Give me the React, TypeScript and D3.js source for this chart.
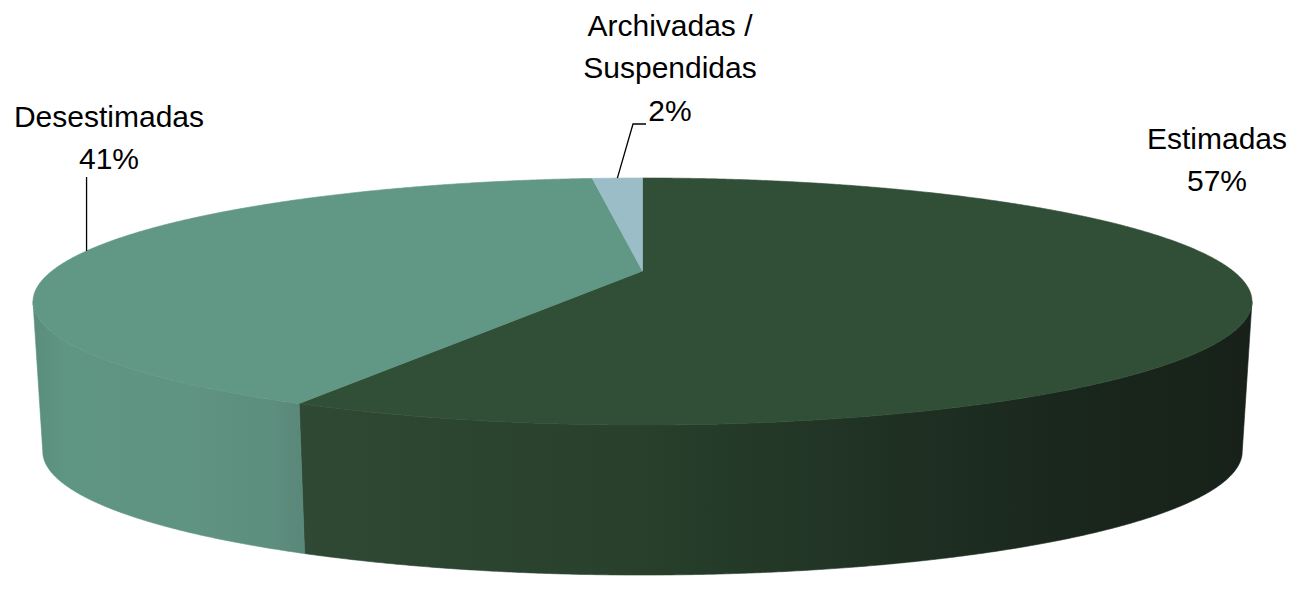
import React from 'react';
import * as d3 from 'd3';

// ---- data ----
const categories = ['Estimadas', 'Desestimadas', 'Archivadas / Suspendidas'];
const values = [57.49, 40.82, 1.69];
const labelLines = [['Estimadas'], ['Desestimadas'], ['Archivadas /', 'Suspendidas']];
const topColors = ['#314f37', '#619785', '#9bbdc7'];
const sideStops: [number, string][][] = [
  [[0, '#2f4934'], [0.35, '#28402c'], [0.6, '#203224'], [0.8, '#1a271d'], [1, '#172119']],
  [[0, '#5a8e7c'], [0.12, '#5f9583'], [0.6, '#5f9382'], [0.9, '#5d8e7e'], [1, '#5a887a']],
  [[0, '#8fb0ba'], [1, '#8fb0ba']],
];

// ---- layout ----
const W = 1295, H = 603;
const CX = 642.5, CY = 271, A = 590.6, B = 116, K = 0.247, DEPTH = 150, BOT = 0.984;
const FONT = 30, LH = 42.4;
const labelPos = [
  { x: 1217, y: 149 },
  { x: 109, y: 127 },
  { x: 670, y: 36 },
];

function proj(theta: number, bottom = false): [number, number] {
  const x = Math.sin(theta), z = Math.cos(theta), w = 1 + K * z;
  return [CX + (bottom ? BOT : 1) * A * x / w, CY - B * z / w + (bottom ? DEPTH : 0)];
}

function samples(a: number, b: number): number[] {
  const n = Math.max(2, Math.ceil((b - a) / 0.005));
  return d3.range(n + 1).map(i => a + (b - a) * i / n);
}

const pie = d3.pie<number>().sort(null).value(d => d);
const arcs = pie(values);
const total = d3.sum(values);
const pct = d3.format('.0%');

const visA = Math.acos(-K);
const visB = 2 * Math.PI - Math.acos(-K);

export default function App() {
  const line = d3.line();
  const tops = arcs.map((a, i) => {
    const pts: [number, number][] = [[CX, CY], ...samples(a.startAngle, a.endAngle).map(t => proj(t))];
    return <path key={'t' + i} d={line(pts) + 'Z'} fill={topColors[i]} stroke={topColors[i]} strokeWidth={0.6} strokeLinejoin="round" />;
  });
  const sides = arcs.map((a, i) => {
    const s = Math.max(a.startAngle, visA), e = Math.min(a.endAngle, visB);
    if (e <= s) return null;
    const ts = samples(s, e);
    const pts: [number, number][] = [
      ...ts.map(t => proj(t)),
      ...ts.slice().reverse().map(t => proj(t, true)),
    ];
    return <path key={'s' + i} d={line(pts) + 'Z'} fill={`url(#side${i})`} stroke={`url(#side${i})`} strokeWidth={0.6} />;
  });
  const grads = arcs.map((a, i) => {
    const s = Math.max(a.startAngle, visA), e = Math.min(a.endAngle, visB);
    const xs = e > s ? samples(s, e).map(t => proj(t)[0]) : [0, 1];
    return (
      <linearGradient key={'g' + i} id={`side${i}`} gradientUnits="userSpaceOnUse"
        x1={d3.min(xs)} x2={d3.max(xs)} y1={0} y2={0}>
        {sideStops[i].map(([o, c], j) => <stop key={j} offset={o} stopColor={c} />)}
      </linearGradient>
    );
  });

  const mid = arcs.map(a => proj((a.startAngle + a.endAngle) / 2));
  const leaders: ([number, number][] | null)[] = [
    null,
    [mid[1], [mid[1][0], 177]],
    [mid[2], [633, 124], [646, 124]],
  ];

  return (
    <svg width={W} height={H} style={{ position: 'absolute', left: 0, top: 0, background: '#fff' }}
      fontFamily="'Liberation Sans', Arial, sans-serif">
      <defs>{grads}</defs>
      {sides}
      {tops}
      {leaders.map((l, i) => l && (
        <path key={'l' + i} d={line(l) as string} fill="none" stroke="#000" strokeWidth={1.3} />
      ))}
      {arcs.map((a, i) => {
        const lines = [...labelLines[i], pct(values[i] / total)];
        return (
          <text key={'x' + i} fontSize={FONT} fill="#000" textAnchor="middle">
            {lines.map((t, j) => (
              <tspan key={j} x={labelPos[i].x} y={labelPos[i].y + j * LH}>{t}</tspan>
            ))}
          </text>
        );
      })}
    </svg>
  );
}
